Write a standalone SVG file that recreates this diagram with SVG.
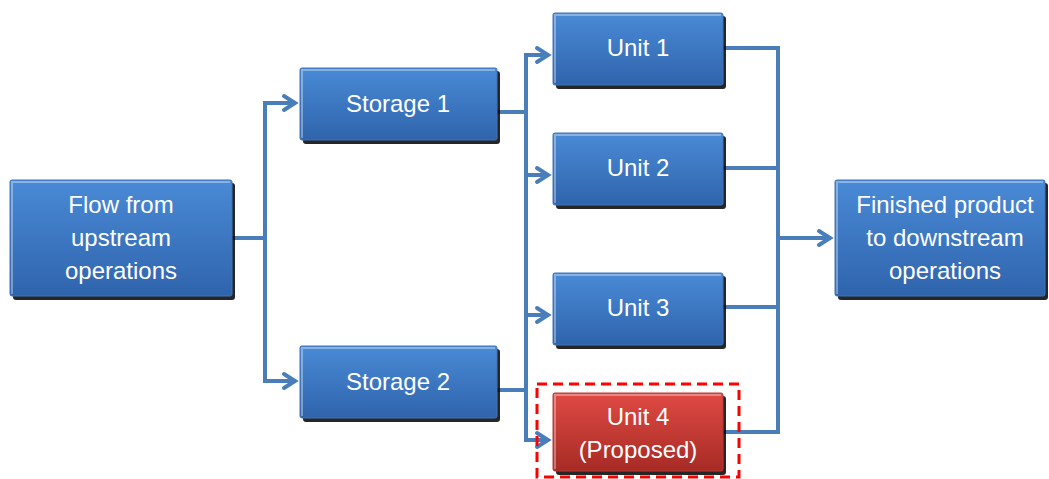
<svg xmlns="http://www.w3.org/2000/svg" width="1049" height="479" viewBox="0 0 1049 479">
<defs>
<linearGradient id="gb" x1="0" y1="0" x2="0" y2="1">
<stop offset="0" stop-color="#4a8ad6"/>
<stop offset="1" stop-color="#2f64ac"/>
</linearGradient>
<linearGradient id="gr" x1="0" y1="0" x2="0" y2="1">
<stop offset="0" stop-color="#df4a43"/>
<stop offset="1" stop-color="#a72b25"/>
</linearGradient>
<marker id="ar" viewBox="-12 -10 20 20" refX="5" refY="0" markerWidth="20" markerHeight="20" markerUnits="userSpaceOnUse" orient="auto">
<path d="M-7,-7 L4,0 L-7,7" fill="none" stroke="#4a7ebb" stroke-width="4" stroke-linejoin="miter" stroke-linecap="round"/>
</marker>
</defs>
<style>
.sh{fill:#000;opacity:0.85}
.bx{fill:url(#gb);stroke:#3f74b8;stroke-width:1}
.rd{fill:url(#gr);stroke:#b83a33;stroke-width:1}
.hl{fill:none;stroke:#ffffff;stroke-opacity:0.35;stroke-width:2}
.t{font-family:"Liberation Sans",Arial,sans-serif;font-size:24px;fill:#ffffff;text-anchor:middle}
.c{fill:none;stroke:#4a7ebb;stroke-width:4}
.ca{fill:none;stroke:#4a7ebb;stroke-width:4;marker-end:url(#ar)}
</style>
<rect width="1049" height="479" fill="#ffffff"/>
<g id="connectors">
<path class="c" d="M232,238 H265 M265,101 V383"/>
<path class="ca" d="M265,103 H296"/>
<path class="ca" d="M265,381 H296"/>
<path class="c" d="M497,112 H526 M497,390 H526 M526,53 V442"/>
<path class="ca" d="M526,55 H549"/>
<path class="ca" d="M526,175 H549"/>
<path class="ca" d="M526,315 H549"/>
<path class="ca" d="M526,440 H549"/>
<path class="c" d="M723,48 H778 M723,168 H778 M723,307 H778 M723,432 H778 M778,46 V434"/>
<path class="ca" d="M778,238 H831"/>
</g>
<g id="flow">
<rect class="sh" x="13" y="183" width="222" height="117" rx="3"/>
<rect class="bx" x="10" y="180" width="222" height="116" rx="2"/>
<path class="hl" d="M12,294 V182 H230"/>
<text class="t" x="121" y="213">Flow from</text>
<text class="t" x="121" y="246">upstream</text>
<text class="t" x="121" y="279">operations</text>
</g>
<g id="storage1">
<rect class="sh" x="303" y="71" width="197" height="73" rx="3"/>
<rect class="bx" x="300" y="68" width="197" height="72" rx="2"/>
<path class="hl" d="M302,138 V70 H495"/>
<text class="t" x="398" y="112">Storage 1</text>
</g>
<g id="storage2">
<rect class="sh" x="303" y="349" width="197" height="73" rx="3"/>
<rect class="bx" x="300" y="346" width="197" height="72" rx="2"/>
<path class="hl" d="M302,416 V348 H495"/>
<text class="t" x="398" y="390">Storage 2</text>
</g>
<g id="unit1">
<rect class="sh" x="556" y="16" width="170" height="73" rx="3"/>
<rect class="bx" x="553" y="13" width="170" height="72" rx="2"/>
<path class="hl" d="M555,83 V15 H721"/>
<text class="t" x="638" y="56">Unit 1</text>
</g>
<g id="unit2">
<rect class="sh" x="556" y="136" width="170" height="73" rx="3"/>
<rect class="bx" x="553" y="133" width="170" height="72" rx="2"/>
<path class="hl" d="M555,203 V135 H721"/>
<text class="t" x="638" y="176">Unit 2</text>
</g>
<g id="unit3">
<rect class="sh" x="556" y="276" width="170" height="73" rx="3"/>
<rect class="bx" x="553" y="273" width="170" height="72" rx="2"/>
<path class="hl" d="M555,343 V275 H721"/>
<text class="t" x="638" y="316">Unit 3</text>
</g>
<g id="unit4">
<rect x="537" y="384" width="202" height="93" fill="none" stroke="#ff0000" stroke-width="3" stroke-dasharray="10,6"/>
<rect class="sh" x="556" y="396" width="170" height="79" rx="3"/>
<rect class="rd" x="553" y="393" width="170" height="78" rx="2"/>
<path class="hl" d="M555,469 V395 H721"/>
<text class="t" x="638" y="425">Unit 4</text>
<text class="t" x="638" y="458">(Proposed)</text>
</g>
<g id="finished">
<rect class="sh" x="838" y="183" width="210" height="117" rx="3"/>
<rect class="bx" x="835" y="180" width="210" height="116" rx="2"/>
<path class="hl" d="M837,294 V182 H1043"/>
<text class="t" x="945" y="213">Finished product</text>
<text class="t" x="945" y="246">to downstream</text>
<text class="t" x="945" y="279">operations</text>
</g>
</svg>
